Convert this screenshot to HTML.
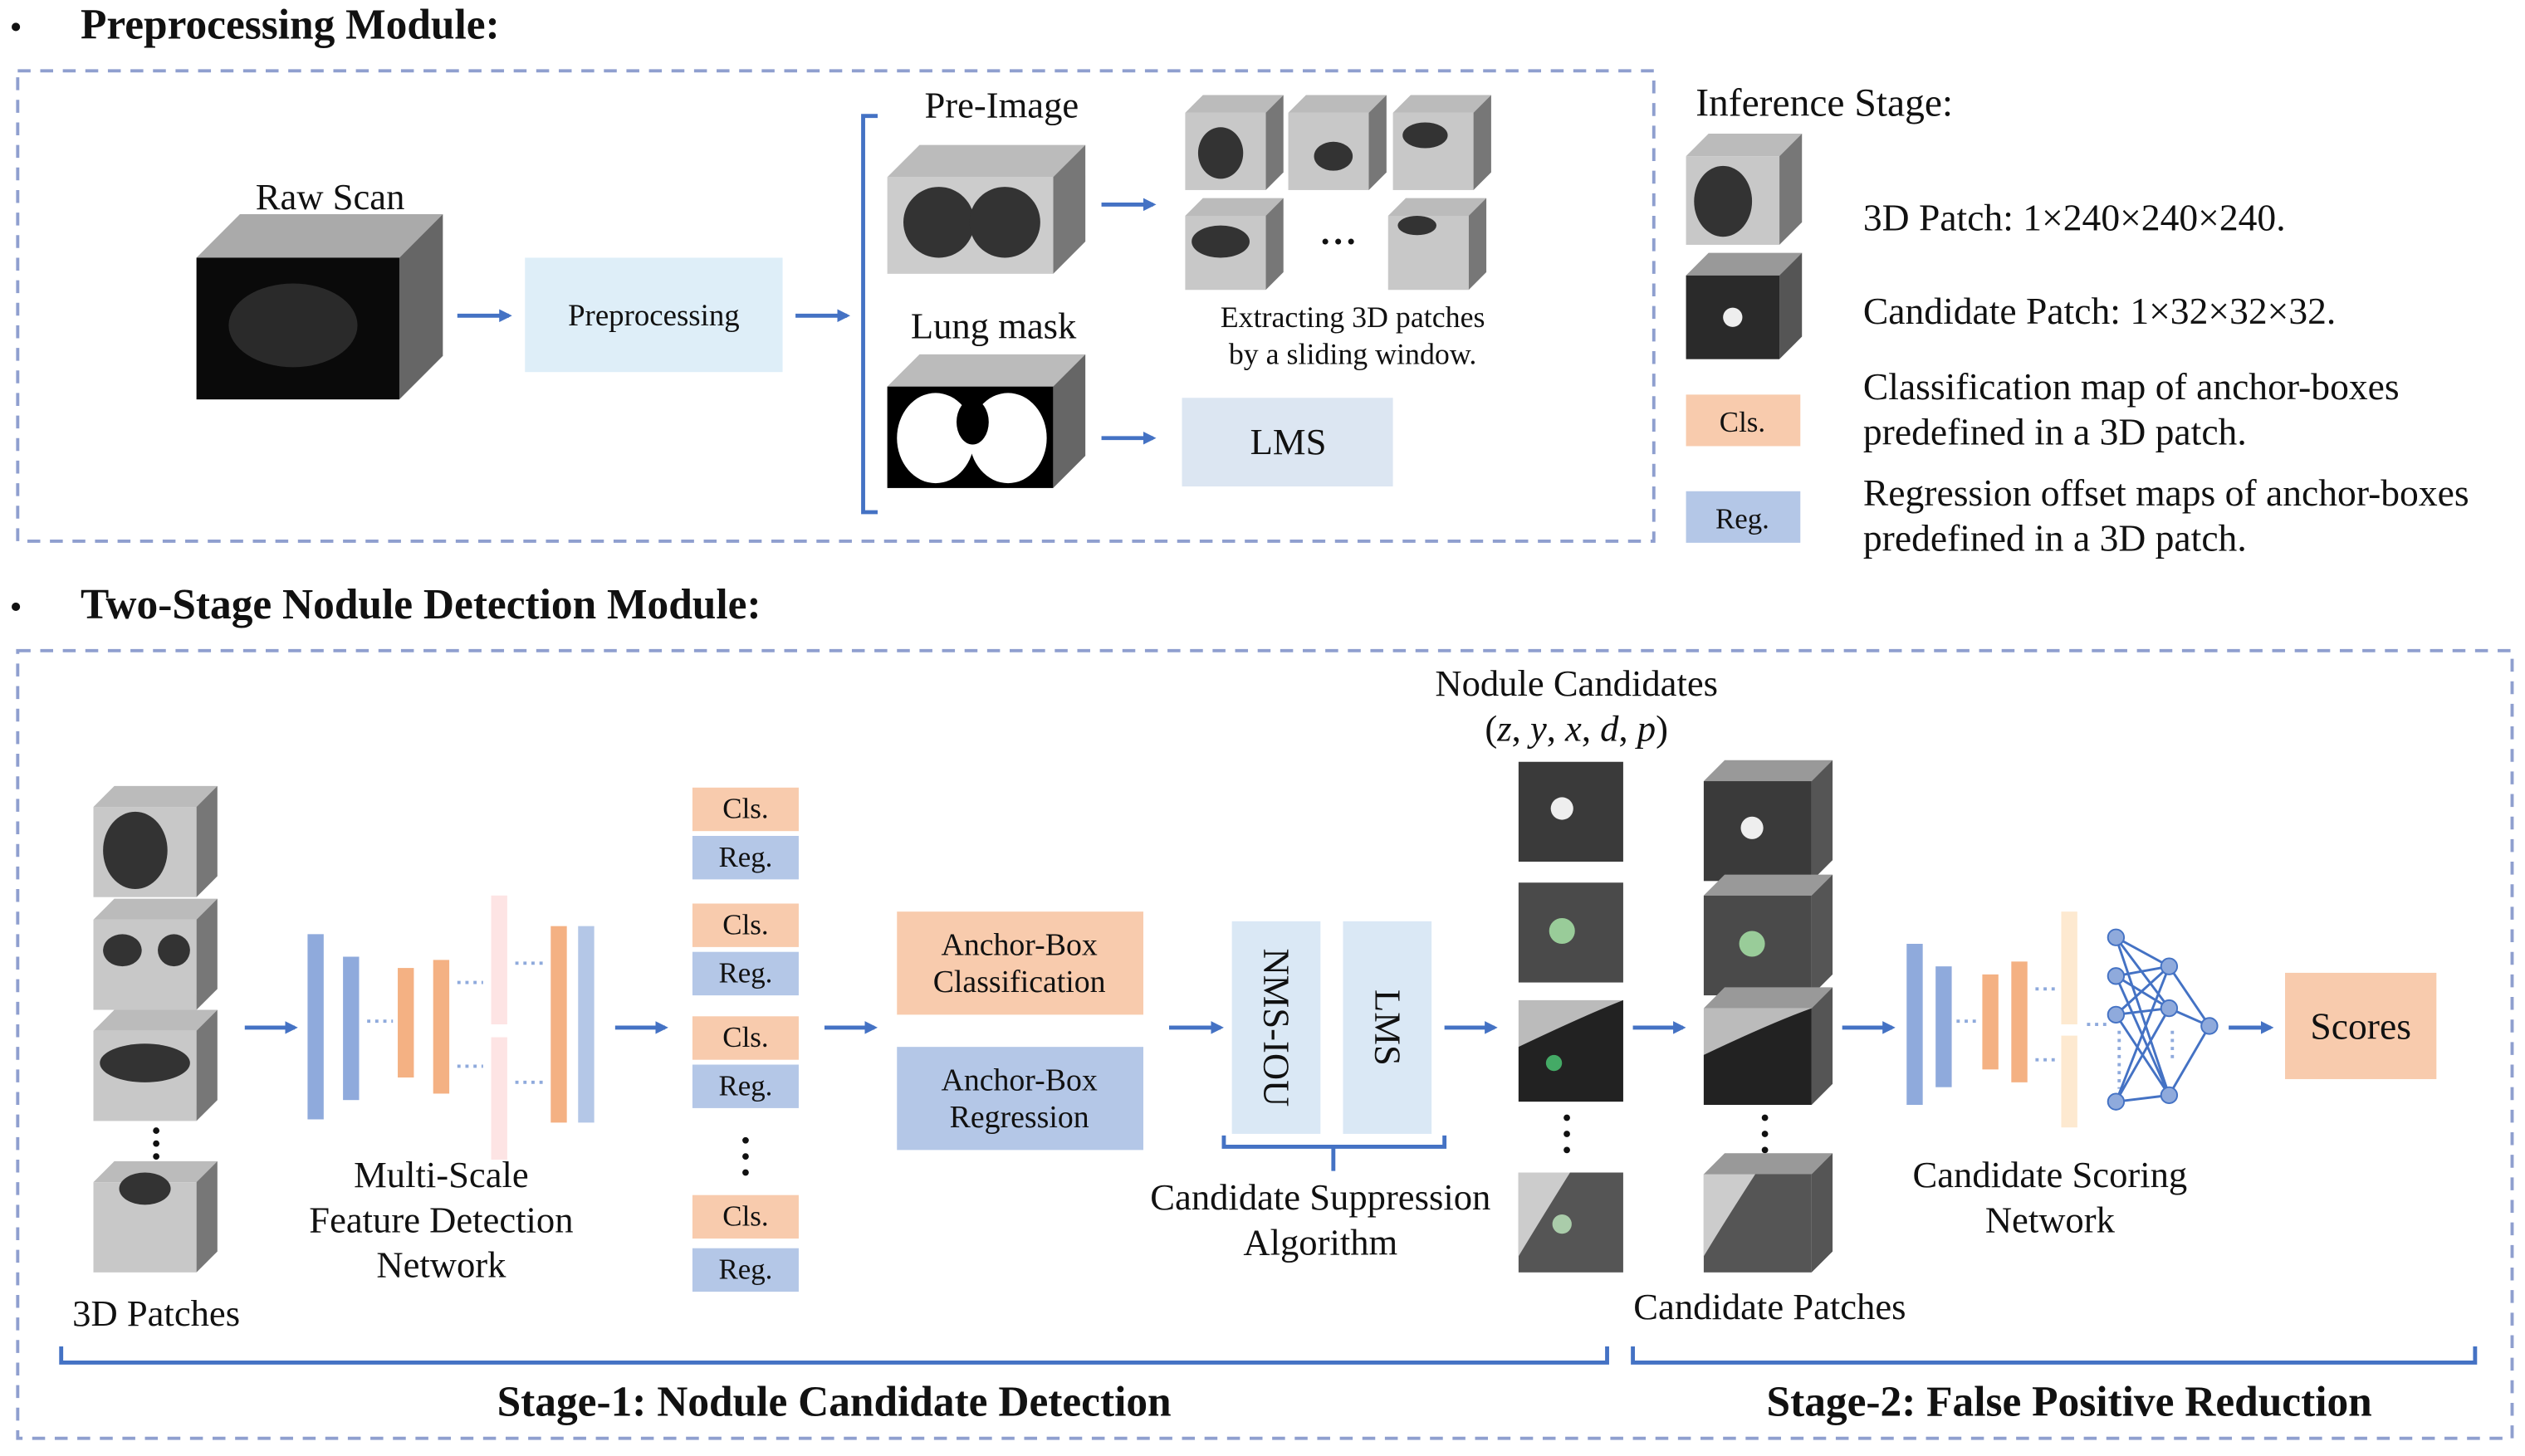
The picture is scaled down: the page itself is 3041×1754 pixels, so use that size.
<!DOCTYPE html>
<html><head><meta charset="utf-8"><style>
html,body{margin:0;padding:0;background:#fff;}
svg{display:block;}
text{font-family:"Liberation Serif",serif;fill:#111;}
.b{font-weight:bold;}
</style></head><body>
<svg width="3041" height="1754" viewBox="0 0 1568 904" preserveAspectRatio="none" xmlns="http://www.w3.org/2000/svg">
<defs>
<marker id="ar" markerWidth="8" markerHeight="8" refX="6" refY="4" orient="auto" markerUnits="userSpaceOnUse"><path d="M0,0 L8,4 L0,8 z" fill="#4472c4"/></marker>
</defs>
<g stroke="#4472c4" stroke-width="2.5" marker-end="url(#ar)">
<line x1="284" y1="196" x2="316" y2="196"/><line x1="494" y1="196" x2="526" y2="196"/>
<line x1="684" y1="127" x2="716" y2="127"/><line x1="684" y1="272" x2="716" y2="272"/>
<line x1="152" y1="638" x2="183" y2="638"/><line x1="382" y1="638" x2="413" y2="638"/>
<line x1="512" y1="638" x2="543" y2="638"/><line x1="726" y1="638" x2="758" y2="638"/>
<line x1="897" y1="638" x2="928" y2="638"/><line x1="1014" y1="638" x2="1045" y2="638"/>
<line x1="1144" y1="638" x2="1175" y2="638"/><line x1="1384" y1="638" x2="1410" y2="638"/>
</g>
<g fill="none" stroke="#8f9fcf" stroke-width="2" stroke-dasharray="8,6">
<rect x="11" y="44" width="1016" height="292"/><rect x="11" y="404" width="1549" height="489"/>
</g>
<text x="6" y="24" font-size="22">•</text><text x="50" y="24" font-size="26.5" class="b">Preprocessing Module:</text>
<text x="6" y="384" font-size="22">•</text><text x="50" y="384" font-size="26.5" class="b">Two-Stage Nodule Detection Module:</text>
<g font-size="23" text-anchor="middle">
<text x="205" y="130">Raw Scan</text><text x="622" y="73">Pre-Image</text><text x="617" y="210">Lung mask</text>
</g>
<g>
<polygon points="122,160 149,133 275,133 248,160" fill="#aaa"/><polygon points="248,160 275,133 275,221 248,248" fill="#666"/><rect x="122" y="160" width="126" height="88" fill="#0a0a0a"/><ellipse cx="182" cy="202" rx="40" ry="26" fill="#2a2a2a"/>
<polygon points="551,110 571,90 674,90 654,110" fill="#bbb"/><polygon points="654,110 674,90 674,150 654,170" fill="#777"/><rect x="551" y="110" width="103" height="60" fill="#ccc"/><ellipse cx="583" cy="138" rx="22" ry="22" fill="#333"/><ellipse cx="624" cy="138" rx="22" ry="22" fill="#333"/>
<polygon points="551,240 571,220 674,220 654,240" fill="#bbb"/><polygon points="654,240 674,220 674,283 654,303" fill="#666"/><rect x="551" y="240" width="103" height="63" fill="#000"/><ellipse cx="581" cy="272" rx="24" ry="28" fill="#fff"/><ellipse cx="626" cy="272" rx="24" ry="28" fill="#fff"/><ellipse cx="604" cy="262" rx="10" ry="14" fill="#000"/>
</g>
<g fill="#c8c8c8">
<polygon points="736,70 747,59 797,59 786,70" fill="#bbb"/><polygon points="786,70 797,59 797,107 786,118" fill="#777"/><rect x="736" y="70" width="50" height="48"/><ellipse cx="758" cy="95" rx="14" ry="16" fill="#333"/>
<polygon points="800,70 811,59 861,59 850,70" fill="#bbb"/><polygon points="850,70 861,59 861,107 850,118" fill="#777"/><rect x="800" y="70" width="50" height="48"/><ellipse cx="828" cy="97" rx="12" ry="9" fill="#333"/>
<polygon points="865,70 876,59 926,59 915,70" fill="#bbb"/><polygon points="915,70 926,59 926,107 915,118" fill="#777"/><rect x="865" y="70" width="50" height="48"/><ellipse cx="885" cy="84" rx="14" ry="8" fill="#333"/>
<polygon points="736,134 747,123 797,123 786,134" fill="#bbb"/><polygon points="786,134 797,123 797,169 786,180" fill="#777"/><rect x="736" y="134" width="50" height="46"/><ellipse cx="758" cy="150" rx="18" ry="10" fill="#333"/>
<polygon points="862,134 873,123 923,123 912,134" fill="#bbb"/><polygon points="912,134 923,123 923,169 912,180" fill="#777"/><rect x="862" y="134" width="50" height="46"/><ellipse cx="880" cy="140" rx="12" ry="6" fill="#333"/>
<polygon points="1047,97 1061,83 1119,83 1105,97" fill="#bbb"/><polygon points="1105,97 1119,83 1119,138 1105,152" fill="#777"/><rect x="1047" y="97" width="58" height="55"/><ellipse cx="1070" cy="125" rx="18" ry="22" fill="#333"/>
<polygon points="1047,171 1061,157 1119,157 1105,171" fill="#999"/><polygon points="1105,171 1119,157 1119,209 1105,223" fill="#555"/><rect x="1047" y="171" width="58" height="52" fill="#2a2a2a"/><circle cx="1076" cy="197" r="6" fill="#eee"/>
<polygon points="58,501 71,488 135,488 122,501" fill="#bbb"/><polygon points="122,501 135,488 135,544 122,557" fill="#777"/><rect x="58" y="501" width="64" height="56"/><ellipse cx="84" cy="528" rx="20" ry="24" fill="#333"/>
<polygon points="58,571 71,558 135,558 122,571" fill="#bbb"/><polygon points="122,571 135,558 135,614 122,627" fill="#777"/><rect x="58" y="571" width="64" height="56"/><ellipse cx="76" cy="590" rx="12" ry="10" fill="#333"/><ellipse cx="108" cy="590" rx="10" ry="10" fill="#333"/>
<polygon points="58,640 71,627 135,627 122,640" fill="#bbb"/><polygon points="122,640 135,627 135,683 122,696" fill="#777"/><rect x="58" y="640" width="64" height="56"/><ellipse cx="90" cy="660" rx="28" ry="12" fill="#333"/>
<polygon points="58,734 71,721 135,721 122,734" fill="#bbb"/><polygon points="122,734 135,721 135,777 122,790" fill="#777"/><rect x="58" y="734" width="64" height="56"/><ellipse cx="90" cy="738" rx="16" ry="10" fill="#333"/>
</g>
<g fill="#111"><circle cx="97" cy="702" r="2"/><circle cx="97" cy="710" r="2"/><circle cx="97" cy="718" r="2"/>
<circle cx="463" cy="708" r="2"/><circle cx="463" cy="718" r="2"/><circle cx="463" cy="728" r="2"/>
<circle cx="973" cy="694" r="2"/><circle cx="973" cy="704" r="2"/><circle cx="973" cy="714" r="2"/>
<circle cx="1096" cy="694" r="2"/><circle cx="1096" cy="704" r="2"/><circle cx="1096" cy="714" r="2"/>
<circle cx="823" cy="150" r="1.8"/><circle cx="831" cy="150" r="1.8"/><circle cx="839" cy="150" r="1.8"/></g>
<g>
<rect x="943" y="473" width="65" height="62" fill="#3a3a3a"/><circle cx="970" cy="502" r="7" fill="#eee"/>
<rect x="943" y="548" width="65" height="62" fill="#4a4a4a"/><circle cx="970" cy="578" r="8" fill="#9c9"/>
<rect x="943" y="621" width="65" height="63" fill="#bbb"/><path d="M943,650 Q985,630 1008,621 L1008,684 L943,684z" fill="#222"/><circle cx="965" cy="660" r="5" fill="#4a6"/>
<rect x="943" y="728" width="65" height="62" fill="#555"/><path d="M943,728 L975,728 Q955,760 943,780z" fill="#ccc"/><circle cx="970" cy="760" r="6" fill="#aca"/>
<polygon points="1058,485 1071,472 1138,472 1125,485" fill="#999"/><polygon points="1125,485 1138,472 1138,534 1125,547" fill="#555"/><rect x="1058" y="485" width="67" height="62" fill="#3a3a3a"/><circle cx="1088" cy="514" r="7" fill="#eee"/>
<polygon points="1058,556 1071,543 1138,543 1125,556" fill="#999"/><polygon points="1125,556 1138,543 1138,605 1125,618" fill="#555"/><rect x="1058" y="556" width="67" height="62" fill="#4a4a4a"/><circle cx="1088" cy="586" r="8" fill="#9c9"/>
<polygon points="1058,626 1071,613 1138,613 1125,626" fill="#999"/><polygon points="1125,626 1138,613 1138,673 1125,686" fill="#555"/><rect x="1058" y="626" width="67" height="60" fill="#bbb"/><path d="M1058,655 Q1100,635 1125,626 L1125,686 L1058,686z" fill="#222"/>
<polygon points="1058,729 1071,716 1138,716 1125,729" fill="#999"/><polygon points="1125,729 1138,716 1138,777 1125,790" fill="#555"/><rect x="1058" y="729" width="67" height="61" fill="#555"/><path d="M1058,729 L1090,729 Q1070,760 1058,780z" fill="#ccc"/>
</g>
<rect x="326" y="160" width="160" height="71" fill="#deeef8"/><text x="406" y="202" font-size="19" text-anchor="middle">Preprocessing</text>
<path d="M545,72 L536,72 L536,318 L545,318" fill="none" stroke="#4472c4" stroke-width="2.5"/>
<rect x="734" y="247" width="131" height="55" fill="#dce6f2"/><text x="800" y="282" font-size="23" text-anchor="middle">LMS</text>
<text x="840" y="203" font-size="18.5" text-anchor="middle">Extracting 3D patches</text><text x="840" y="226" font-size="18.5" text-anchor="middle">by a sliding window.</text>
<text x="1053" y="72" font-size="24.5">Inference Stage:</text>
<rect x="1047" y="245" width="71" height="32" fill="#f8cbad"/><text x="1082" y="268" font-size="18" text-anchor="middle">Cls.</text>
<rect x="1047" y="305" width="71" height="32" fill="#b4c7e7"/><text x="1082" y="328" font-size="18" text-anchor="middle">Reg.</text>
<g font-size="23.5"><text x="1157" y="143">3D Patch: 1×240×240×240.</text><text x="1157" y="201">Candidate Patch: 1×32×32×32.</text>
<text x="1157" y="248">Classification map of anchor-boxes</text><text x="1157" y="276">predefined in a 3D patch.</text>
<text x="1157" y="314">Regression offset maps of  anchor-boxes</text><text x="1157" y="342">predefined in a 3D patch.</text></g>
<rect x="191" y="580" width="10" height="115" fill="#8faadc"/><rect x="213" y="594" width="10" height="89" fill="#8faadc"/>
<rect x="247" y="601" width="10" height="68" fill="#f4b183"/><rect x="269" y="596" width="10" height="83" fill="#f4b183"/>
<rect x="305" y="556" width="10" height="80" fill="#fde4e4"/><rect x="305" y="644" width="10" height="76" fill="#fde4e4"/>
<rect x="342" y="575" width="10" height="122" fill="#f4b183"/><rect x="359" y="575" width="10" height="122" fill="#b4c7e7"/>
<g stroke="#8faadc" stroke-width="2" stroke-dasharray="2,3"><line x1="228" y1="634" x2="244" y2="634"/><line x1="284" y1="610" x2="300" y2="610"/><line x1="284" y1="662" x2="300" y2="662"/><line x1="320" y1="598" x2="337" y2="598"/><line x1="320" y1="672" x2="337" y2="672"/>
<line x1="1215" y1="634" x2="1228" y2="634"/><line x1="1264" y1="614" x2="1277" y2="614"/><line x1="1264" y1="658" x2="1277" y2="658"/><line x1="1296" y1="636" x2="1310" y2="636"/><line x1="1316" y1="640" x2="1316" y2="676"/><line x1="1349" y1="640" x2="1349" y2="660"/></g>
<g font-size="23" text-anchor="middle"><text x="274" y="737">Multi-Scale</text><text x="274" y="765">Feature Detection</text><text x="274" y="793">Network</text>
<text x="97" y="823">3D Patches</text><text x="820" y="751">Candidate Suppression</text><text x="820" y="779">Algorithm</text>
<text x="979" y="432">Nodule Candidates</text><text x="979" y="460">(<tspan font-style="italic">z</tspan>, <tspan font-style="italic">y</tspan>, <tspan font-style="italic">x</tspan>, <tspan font-style="italic">d</tspan>, <tspan font-style="italic">p</tspan>)</text>
<text x="1099" y="819">Candidate Patches</text><text x="1273" y="737">Candidate Scoring</text><text x="1273" y="765">Network</text></g>
<g font-size="18" text-anchor="middle">
<rect x="430" y="489" width="66" height="27" fill="#f8cbad"/><text x="463" y="508">Cls.</text>
<rect x="430" y="519" width="66" height="27" fill="#b4c7e7"/><text x="463" y="538">Reg.</text>
<rect x="430" y="561" width="66" height="27" fill="#f8cbad"/><text x="463" y="580">Cls.</text>
<rect x="430" y="591" width="66" height="27" fill="#b4c7e7"/><text x="463" y="610">Reg.</text>
<rect x="430" y="631" width="66" height="27" fill="#f8cbad"/><text x="463" y="650">Cls.</text>
<rect x="430" y="661" width="66" height="27" fill="#b4c7e7"/><text x="463" y="680">Reg.</text>
<rect x="430" y="742" width="66" height="27" fill="#f8cbad"/><text x="463" y="761">Cls.</text>
<rect x="430" y="775" width="66" height="27" fill="#b4c7e7"/><text x="463" y="794">Reg.</text>
</g>
<rect x="557" y="566" width="153" height="64" fill="#f8cbad"/><rect x="557" y="650" width="153" height="64" fill="#b4c7e7"/>
<g font-size="19.5" text-anchor="middle"><text x="633" y="593">Anchor-Box</text><text x="633" y="616">Classification</text><text x="633" y="677">Anchor-Box</text><text x="633" y="700">Regression</text></g>
<rect x="765" y="572" width="55" height="132" fill="#dae8f5"/><rect x="834" y="572" width="55" height="132" fill="#dae8f5"/>
<text font-size="23" text-anchor="middle" transform="translate(785,638) rotate(90)">NMS-IOU</text>
<text font-size="23" text-anchor="middle" transform="translate(854,638) rotate(90)">LMS</text>
<path d="M760,705 L760,712 L897,712 L897,705 M828,712 L828,727" fill="none" stroke="#4472c4" stroke-width="2.5"/>
<rect x="1184" y="586" width="10" height="100" fill="#8faadc"/><rect x="1202" y="600" width="10" height="75" fill="#8faadc"/>
<rect x="1231" y="605" width="10" height="59" fill="#f4b183"/><rect x="1249" y="597" width="10" height="75" fill="#f4b183"/>
<rect x="1280" y="566" width="10" height="70" fill="#fde9d0"/><rect x="1280" y="643" width="10" height="57" fill="#fde9d0"/>
<g stroke="#4472c4" stroke-width="1.5">
<path d="M1314,582 L1347,600 M1314,582 L1347,626 M1314,582 L1347,680 M1314,606 L1347,600 M1314,606 L1347,626 M1314,606 L1347,680 M1314,630 L1347,600 M1314,630 L1347,626 M1314,630 L1347,680 M1314,684 L1347,600 M1314,684 L1347,626 M1314,684 L1347,680 M1347,600 L1372,637 M1347,626 L1372,637 M1347,680 L1372,637"/>
</g>
<g fill="#8faadc" stroke="#4472c4" stroke-width="1"><circle cx="1314" cy="582" r="5"/><circle cx="1314" cy="606" r="5"/><circle cx="1314" cy="630" r="5"/><circle cx="1314" cy="684" r="5"/><circle cx="1347" cy="600" r="5"/><circle cx="1347" cy="626" r="5"/><circle cx="1347" cy="680" r="5"/><circle cx="1372" cy="637" r="5"/></g>
<rect x="1419" y="604" width="94" height="66" fill="#f8cbad"/><text x="1466" y="645" font-size="23.5" text-anchor="middle">Scores</text>
<path d="M38,836 L38,846 L998,846 L998,836 M1014,836 L1014,846 L1537,846 L1537,836" fill="none" stroke="#4472c4" stroke-width="2.5"/>
<text x="518" y="879" font-size="26.5" class="b" text-anchor="middle">Stage-1: Nodule Candidate Detection</text>
<text x="1285" y="879" font-size="26.5" class="b" text-anchor="middle">Stage-2: False Positive Reduction</text>
</svg>
</body></html>
